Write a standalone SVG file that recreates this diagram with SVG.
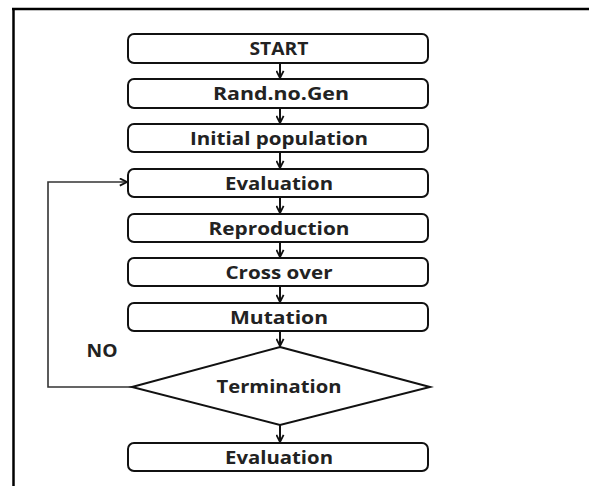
<svg xmlns="http://www.w3.org/2000/svg" width="589" height="486" viewBox="0 0 589 486">
  <style>
    .box { fill: #fff; stroke: #111; stroke-width: 2; }
    .lbl { font-family: "Open Sans", "Liberation Sans", sans-serif; font-weight: bold; font-size: 17px; fill: #222; text-anchor: middle; }
    .conn { fill: none; stroke: #111; stroke-width: 2; }
    .fb { fill: none; stroke: #333; stroke-width: 1.6; }
  </style>
  <defs>
    <marker id="arr" viewBox="0 0 10 10" refX="9" refY="5" markerWidth="9" markerHeight="9" markerUnits="userSpaceOnUse" orient="auto">
      <path d="M1,1 L9,5 L1,9" fill="none" stroke="#111" stroke-width="2"/>
    </marker>
  </defs>
  <rect width="589" height="486" fill="#fff"/>
  <g id="frame">
    <line x1="13.5" y1="8" x2="13.5" y2="486" stroke="#000" stroke-width="2.5"/>
    <line x1="12" y1="9" x2="589" y2="9" stroke="#000" stroke-width="2.5"/>
  </g>
  <g id="connectors">
    <line class="conn" x1="280" y1="63" x2="280" y2="78" marker-end="url(#arr)"/>
    <line class="conn" x1="280" y1="108" x2="280" y2="123" marker-end="url(#arr)"/>
    <line class="conn" x1="280" y1="152" x2="280" y2="168" marker-end="url(#arr)"/>
    <line class="conn" x1="280" y1="197" x2="280" y2="213" marker-end="url(#arr)"/>
    <line class="conn" x1="280" y1="242" x2="280" y2="257" marker-end="url(#arr)"/>
    <line class="conn" x1="280" y1="286" x2="280" y2="302" marker-end="url(#arr)"/>
    <line class="conn" x1="280" y1="331" x2="280" y2="346" marker-end="url(#arr)"/>
    <line class="conn" x1="280" y1="425" x2="280" y2="442" marker-end="url(#arr)"/>
    <polyline class="fb" points="132,387 48,387 48,182 127,182" marker-end="url(#arr)"/>
    <text class="lbl" x="102" y="357" textLength="31" lengthAdjust="spacingAndGlyphs">NO</text>
  </g>
  <g id="start">
    <rect class="box" x="128" y="34" width="300" height="29" rx="6"/>
    <text class="lbl" x="279" y="55" textLength="59" lengthAdjust="spacingAndGlyphs">START</text>
  </g>
  <g id="randgen">
    <rect class="box" x="128" y="79" width="300" height="29" rx="6"/>
    <text class="lbl" x="281" y="100" textLength="136" lengthAdjust="spacingAndGlyphs">Rand.no.Gen</text>
  </g>
  <g id="initpop">
    <rect class="box" x="128" y="124" width="300" height="28" rx="6"/>
    <text class="lbl" x="279" y="145" textLength="178" lengthAdjust="spacingAndGlyphs">Initial population</text>
  </g>
  <g id="eval1">
    <rect class="box" x="128" y="169" width="300" height="28" rx="6"/>
    <text class="lbl" x="279" y="190" textLength="108" lengthAdjust="spacingAndGlyphs">Evaluation</text>
  </g>
  <g id="reproduction">
    <rect class="box" x="128" y="214" width="300" height="28" rx="6"/>
    <text class="lbl" x="279" y="235" textLength="141" lengthAdjust="spacingAndGlyphs">Reproduction</text>
  </g>
  <g id="crossover">
    <rect class="box" x="128" y="258" width="300" height="28" rx="6"/>
    <text class="lbl" x="279" y="279" textLength="107" lengthAdjust="spacingAndGlyphs">Cross over</text>
  </g>
  <g id="mutation">
    <rect class="box" x="128" y="303" width="300" height="28" rx="6"/>
    <text class="lbl" x="279" y="324" textLength="98" lengthAdjust="spacingAndGlyphs">Mutation</text>
  </g>
  <g id="termination">
    <polygon class="box" points="280,347 430,387 280,425 132,387"/>
    <text class="lbl" x="279" y="393" textLength="125" lengthAdjust="spacingAndGlyphs">Termination</text>
  </g>
  <g id="eval2">
    <rect class="box" x="128" y="443" width="300" height="28" rx="6"/>
    <text class="lbl" x="279" y="464" textLength="108" lengthAdjust="spacingAndGlyphs">Evaluation</text>
  </g>
</svg>
